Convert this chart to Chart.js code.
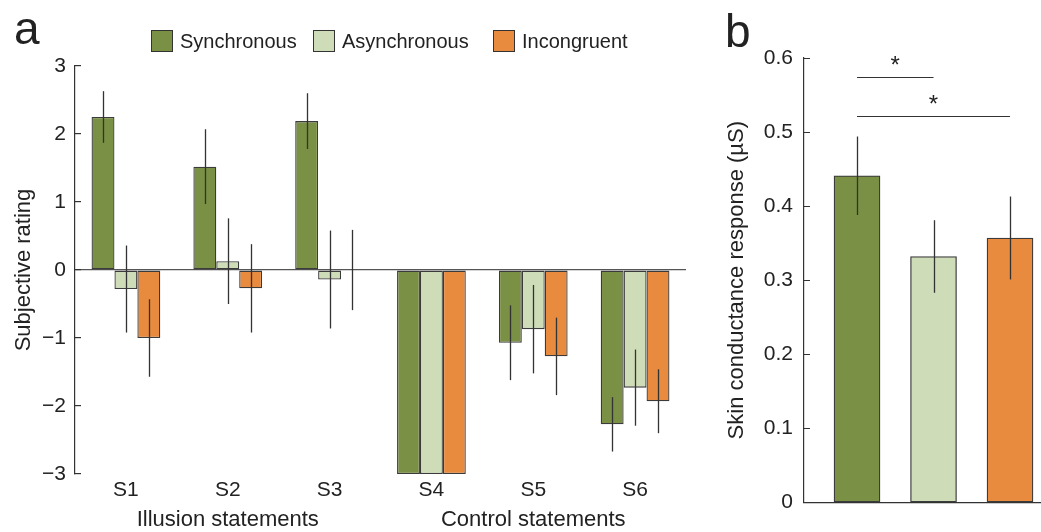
<!DOCTYPE html>
<html>
<head>
<meta charset="utf-8">
<script src="https://cdn.jsdelivr.net/npm/chart.js@4.4.1/dist/chart.umd.min.js"></script>
<style>
    body { margin: 0; background: #fff; width: 1041px; height: 532px; overflow: hidden; position: relative;
           font-family: 'Liberation Sans', Arial, sans-serif; color: #222; }
    canvas { position: absolute; top: 0; }
    #chart-a { left: 0; }
    #chart-b { left: 700px; }
    .panel { position: absolute; font-size: 46px; line-height: 1; }
    .item { position: absolute; top: 30px; display: flex; align-items: center; font-size: 20px; line-height: 22px; }
    .swatch { width: 20px; height: 20px; border: 1px solid #333; margin-right: 7px; }
</style>
</head>
<body>
<canvas id="chart-a" width="700" height="532"></canvas>
<canvas id="chart-b" width="341" height="532"></canvas>
<div class="panel" style="left:14px;top:5px">a</div>
<div class="panel" style="left:725px;top:8px">b</div>
<div id="legend"></div>
<script>
// panel a: subjective ratings per statement
const statements = ['S1', 'S2', 'S3', 'S4', 'S5', 'S6'];
const groups = ['Illusion statements', 'Control statements'];
const conditions = ['Synchronous', 'Asynchronous', 'Incongruent'];
const colors = ['#7a9044', '#cfdcb8', '#e98b3e'];

const syncRating = [2.25, 1.52, 2.19, -3, -1.07, -2.27];
const asyncRating = [-0.28, 0.13, -0.14, -3, -0.87, -1.73];
const incongRating = [-1.0, -0.27, 0, -3, -1.27, -1.93];
const syncErr = [0.38, 0.55, 0.41, null, 0.55, 0.40];
const asyncErr = [0.64, 0.63, 0.72, null, 0.65, 0.56];
const incongErr = [0.57, 0.65, 0.59, null, 0.57, 0.47];
const ratingTicks = [-3, -2, -1, 0, 1, 2, 3];

// panel b: skin conductance
const scrValues = [0.441, 0.332, 0.357];
const scrErr = [0.053, 0.049, 0.056];
const scrTicks = [0, 0.1, 0.2, 0.3, 0.4, 0.5, 0.6];
const sigPairs = [
    { from: 0, to: 1, y: 0.575 },
    { from: 0, to: 2, y: 0.522 }
];

const font = "'Liberation Sans', Arial, sans-serif";
const ink = '#333';

// legend, one item per condition
const legendLeft = [151, 313, 493];
const legend = document.getElementById('legend');
conditions.forEach((name, i) => {
    const el = document.createElement('div');
    el.className = 'item';
    el.style.left = legendLeft[i] + 'px';
    el.innerHTML = `<span class="swatch" style="background:${colors[i]}"></span><span>${name}</span>`;
    legend.appendChild(el);
});

const minus = v => (v < 0 ? '\u2212' + Math.abs(v) : String(v));

const errorBars = {
    id: 'errorBars',
    afterDatasetsDraw(chart) {
        const { ctx } = chart;
        const y = chart.scales.y;
        chart.data.datasets.forEach((ds, i) => {
            chart.getDatasetMeta(i).data.forEach((bar, j) => {
                const e = ds.errors[j];
                if (e == null) return;
                const raw = ds.data[j];
                const v = typeof raw === 'object' ? raw.y : raw;
                const x = Math.round(bar.x) + 0.5;
                ctx.save();
                ctx.strokeStyle = ink;
                ctx.lineWidth = 1.3;
                ctx.beginPath();
                ctx.moveTo(x, y.getPixelForValue(v + e));
                ctx.lineTo(x, y.getPixelForValue(v - e));
                ctx.stroke();
                ctx.restore();
            });
        });
    }
};

const barStyle = { borderColor: '#3b3b3b', borderWidth: 1.3, borderSkipped: false };

new Chart(document.getElementById('chart-a'), {
    type: 'bar',
    data: {
        labels: statements,
        datasets: [
            { label: conditions[0], data: syncRating, errors: syncErr, backgroundColor: colors[0], ...barStyle },
            { label: conditions[1], data: asyncRating, errors: asyncErr, backgroundColor: colors[1], ...barStyle },
            { label: conditions[2], data: incongRating, errors: incongErr, backgroundColor: colors[2], ...barStyle }
        ]
    },
    options: {
        responsive: false,
        animation: false,
        categoryPercentage: 0.675,
        barPercentage: 1,
        layout: { padding: { left: 0, right: 14, top: 66, bottom: 0 } },
        plugins: { legend: { display: false }, tooltip: { enabled: false } },
        scales: {
            y: {
                min: -3, max: 3,
                afterBuildTicks: s => { s.ticks = ratingTicks.map(v => ({ value: v })); },
                afterFit: s => { s.width = 75; },
                border: { display: true, color: ink, width: 1.2 },
                grid: {
                    color: c => (c.tick && c.tick.value === 0 ? '#555' : 'transparent'),
                    lineWidth: 1.2,
                    tickColor: ink,
                    tickLength: -6
                },
                ticks: { padding: 15, color: '#222', font: { family: font, size: 21 }, callback: v => minus(v) },
                title: { display: true, text: 'Subjective rating', color: '#222', font: { family: font, size: 22 }, padding: { top: 11, bottom: 0 } }
            },
            x: {
                afterFit: s => { s.height = 33; },
                border: { display: false },
                grid: { display: false, drawTicks: false },
                ticks: { padding: 4, color: '#222', font: { family: font, size: 21 } }
            },
            x2: {
                type: 'category',
                labels: groups,
                position: 'bottom',
                afterFit: s => { s.height = 25; },
                border: { display: false },
                grid: { display: false, drawTicks: false },
                ticks: { padding: 0, color: '#222', font: { family: font, size: 22 } }
            }
        }
    },
    plugins: [errorBars]
});

const significance = {
    id: 'significance',
    afterDatasetsDraw(chart) {
        const { ctx } = chart;
        const x = chart.scales.x, y = chart.scales.y;
        sigPairs.forEach(p => {
            const x1 = x.getPixelForValue(p.from + 1);
            const x2 = x.getPixelForValue(p.to + 1);
            const yy = Math.round(y.getPixelForValue(p.y)) + 0.5;
            ctx.save();
            ctx.strokeStyle = ink;
            ctx.lineWidth = 1.2;
            ctx.beginPath();
            ctx.moveTo(x1, yy);
            ctx.lineTo(x2, yy);
            ctx.stroke();
            ctx.fillStyle = '#222';
            ctx.font = `24px ${font}`;
            ctx.textAlign = 'center';
            ctx.textBaseline = 'middle';
            ctx.fillText('*', (x1 + x2) / 2, yy - 11);
            ctx.restore();
        });
    }
};

new Chart(document.getElementById('chart-b'), {
    type: 'bar',
    data: {
        datasets: [{
            data: scrValues.map((v, i) => ({ x: i + 1, y: v })),
            errors: scrErr,
            backgroundColor: colors,
            ...barStyle
        }]
    },
    options: {
        responsive: false,
        animation: false,
        barThickness: 46,
        layout: { padding: { left: 0, right: 0, top: 58, bottom: 0 } },
        plugins: { legend: { display: false }, tooltip: { enabled: false } },
        scales: {
            x: {
                type: 'linear',
                offset: false,
                min: 0.307, max: 3.405,
                afterFit: s => { s.height = 19; },
                border: { display: true, color: ink, width: 1.2 },
                grid: { display: false, drawTicks: false, offset: false },
                ticks: { display: false }
            },
            y: {
                min: 0, max: 0.6,
                afterBuildTicks: s => { s.ticks = scrTicks.map(v => ({ value: v })); },
                afterFit: s => { s.width = 104; },
                border: { display: true, color: ink, width: 1.2 },
                grid: { drawOnChartArea: false, tickColor: ink, tickLength: -6 },
                ticks: { padding: 17, color: '#222', font: { family: font, size: 21 }, callback: v => (v === 0 ? '0' : v.toFixed(1)) },
                title: { display: true, text: 'Skin conductance response (µS)', color: '#222', font: { family: font, size: 22 }, padding: { top: 24, bottom: 0 } }
            }
        }
    },
    plugins: [errorBars, significance]
});
</script>
</body>
</html>
